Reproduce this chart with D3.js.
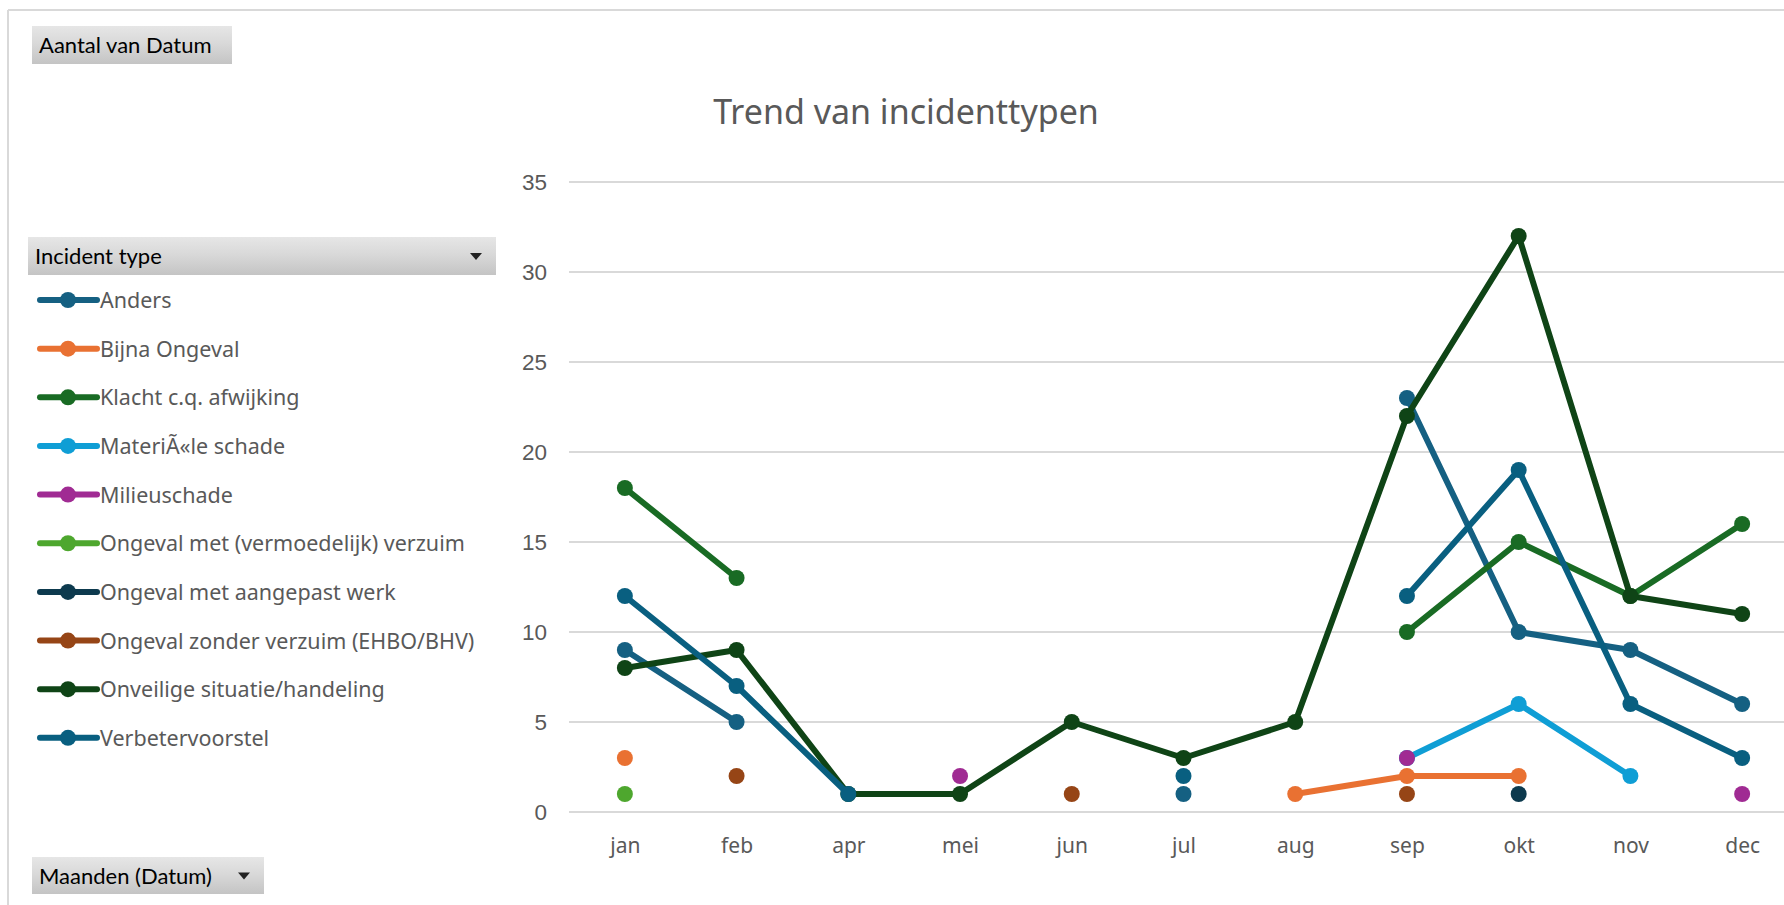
<!DOCTYPE html>
<html>
<head>
<meta charset="utf-8">
<script src="https://cdn.jsdelivr.net/npm/d3@7/dist/d3.min.js"></script>
<style>
  body { margin: 0; background: #ffffff; }
</style>
</head>
<body>
<script>
// categories and values
var months = ["jan", "feb", "apr", "mei", "jun", "jul", "aug", "sep", "okt", "nov", "dec"];
var seriesNames = ["Anders", "Bijna Ongeval", "Klacht c.q. afwijking", "MateriÃ«le schade", "Milieuschade",
  "Ongeval met (vermoedelijk) verzuim", "Ongeval met aangepast werk", "Ongeval zonder verzuim (EHBO/BHV)",
  "Onveilige situatie/handeling", "Verbetervoorstel"];
var seriesColors = ["#156082", "#E97132", "#196B24", "#0F9ED5", "#A02B93",
  "#4EA72E", "#0D3A4E", "#964516", "#0F4416", "#095F80"];

var anders           = [9, 5, null, null, null, 1, null, 23, 10, 9, 6];
var bijnaOngeval     = [3, null, null, null, null, null, 1, 2, 2, null, null];
var klacht           = [18, 13, null, null, null, null, null, 10, 15, 12, 16];
var materiele        = [null, null, null, null, null, null, null, 3, 6, 2, null];
var milieuschade     = [null, null, null, 2, null, null, null, 3, null, null, 1];
var ongevalVerzuim   = [1, null, null, null, null, null, null, null, null, null, null];
var ongevalAangepast = [null, null, null, null, null, null, null, null, 1, null, null];
var ongevalZonder    = [null, 2, null, null, 1, null, null, 1, null, null, null];
var onveilige        = [8, 9, 1, 1, 5, 3, 5, 22, 32, 12, 11];
var verbeter         = [12, 7, 1, null, null, 2, null, 12, 19, 6, 3];

var allSeries = [anders, bijnaOngeval, klacht, materiele, milieuschade,
  ongevalVerzuim, ongevalAangepast, ongevalZonder, onveilige, verbeter];
var yTicks = [0, 5, 10, 15, 20, 25, 30, 35];

var W = 1784, H = 905;
var grey = "#595959";

var svg = d3.select("body").append("svg")
  .attr("width", W).attr("height", H);

// button gradient
var defs = svg.append("defs");
var grad = defs.append("linearGradient").attr("id", "btn")
  .attr("x1", 0).attr("y1", 0).attr("x2", 0).attr("y2", 1);
grad.append("stop").attr("offset", "0%").attr("stop-color", "#e6e6e6");
grad.append("stop").attr("offset", "45%").attr("stop-color", "#d9d9d9");
grad.append("stop").attr("offset", "100%").attr("stop-color", "#c4c4c4");

// chart frame (only top and left edge are visible)
svg.append("line").attr("x1", 8).attr("y1", 10).attr("x2", W).attr("y2", 10)
  .style("stroke", "#d9d9d9").style("stroke-width", 2);
svg.append("line").attr("x1", 8).attr("y1", 10).attr("x2", 8).attr("y2", H)
  .style("stroke", "#d9d9d9").style("stroke-width", 2);

// scales
var x = d3.scalePoint().domain(months).range([569, 1798]).padding(0.5);
var y = d3.scaleLinear().domain([0, 35]).range([812, 182]);

// gridlines
svg.append("g").selectAll("line").data(yTicks).enter().append("line")
  .attr("x1", 569).attr("x2", 1798)
  .attr("y1", function(d) { return y(d); }).attr("y2", function(d) { return y(d); })
  .style("stroke", "#d9d9d9").style("stroke-width", 2);

// y axis labels
var yAxis = d3.axisLeft(y).tickValues(yTicks).tickSize(0).tickPadding(0);
var yg = svg.append("g").attr("transform", "translate(547,0)").call(yAxis);
yg.select(".domain").remove();
yg.selectAll("text").style("font-family", "'Liberation Sans', Arial, sans-serif")
  .style("font-size", "22.5px").style("fill", grey);

// x axis labels
var xAxis = d3.axisBottom(x).tickSize(0).tickPadding(0);
var xg = svg.append("g").attr("transform", "translate(0,838)").call(xAxis);
xg.select(".domain").remove();
xg.selectAll("text").style("font-family", "'Noto Sans', sans-serif")
  .style("font-size", "21px").style("fill", grey);

// title
svg.append("text").attr("x", 906).attr("y", 124).attr("text-anchor", "middle")
  .style("font-family", "'Noto Sans', sans-serif").style("font-size", "34px")
  .style("fill", grey).text("Trend van incidenttypen");

// series: line then markers, in legend order
var line = d3.line()
  .defined(function(d) { return d != null; })
  .x(function(d, i) { return x(months[i]); })
  .y(function(d) { return y(d); });

allSeries.forEach(function(vals, s) {
  var g = svg.append("g").attr("class", "series");
  g.append("path").datum(vals).attr("d", line)
    .style("fill", "none").style("stroke", seriesColors[s])
    .style("stroke-width", 6).style("stroke-linejoin", "round").style("stroke-linecap", "round");
  g.selectAll("circle").data(vals.map(function(v, i) { return {v: v, m: months[i]}; })
      .filter(function(d) { return d.v != null; }))
    .enter().append("circle")
    .attr("cx", function(d) { return x(d.m); })
    .attr("cy", function(d) { return y(d.v); })
    .attr("r", 8)
    .style("fill", seriesColors[s]);
});

// pivot field buttons
function fieldButton(bx, by, bw, bh, label, arrowX) {
  svg.append("rect").attr("x", bx).attr("y", by).attr("width", bw).attr("height", bh)
    .style("fill", "url(#btn)");
  svg.append("text").attr("x", bx + 7).attr("y", by + bh / 2 + 8)
    .style("font-family", "Lato, sans-serif").style("font-size", "22px")
    .style("fill", "#000").text(label);
  if (arrowX) {
    var cy = by + bh / 2;
    svg.append("path")
      .attr("d", "M" + (arrowX - 6) + "," + (cy - 3) + "L" + (arrowX + 6) + "," + (cy - 3) + "L" + arrowX + "," + (cy + 4) + "Z")
      .style("fill", "#222");
  }
}
fieldButton(32, 26, 200, 38, "Aantal van Datum", null);
fieldButton(28, 237, 468, 38, "Incident type", 476);
fieldButton(32, 857, 232, 37, "Maanden (Datum)", 244);

// legend
var legend = svg.append("g").selectAll("g").data(seriesNames).enter().append("g")
  .attr("transform", function(d, i) { return "translate(0," + (300 + i * 48.65) + ")"; });
legend.append("line").attr("x1", 40).attr("x2", 97).attr("y1", 0).attr("y2", 0)
  .style("stroke", function(d, i) { return seriesColors[i]; })
  .style("stroke-width", 6).style("stroke-linecap", "round");
legend.append("circle").attr("cx", 68).attr("cy", 0).attr("r", 8)
  .style("fill", function(d, i) { return seriesColors[i]; });
legend.append("text").attr("x", 100).attr("y", 8)
  .style("font-family", "'Noto Sans', sans-serif").style("font-size", "21.5px")
  .style("fill", grey).text(function(d) { return d; });
</script>
</body>
</html>
